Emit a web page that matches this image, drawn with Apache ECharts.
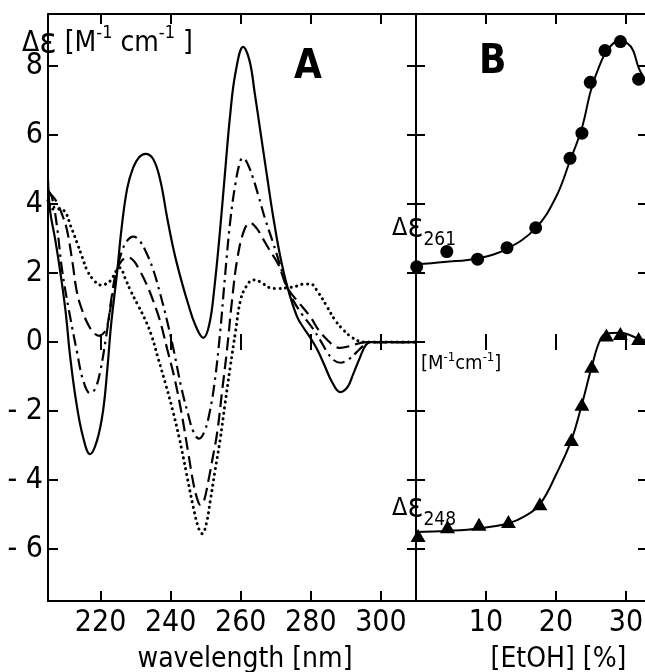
<!DOCTYPE html>
<html>
<head>
<meta charset="utf-8">
<script src="https://cdn.jsdelivr.net/npm/echarts@6/dist/echarts.min.js"></script>
<style>
  html, body { margin: 0; padding: 0; background: #fff; }
  #chart { width: 645px; height: 672px; }
</style>
</head>
<body>
<div id="chart"></div>
<script>
// tick labels
const wlTicks = [220, 240, 260, 280, 300];
const etohTicks = [10, 20, 30];
const deTicks = [-6, -4, -2, 0, 2, 4, 6, 8];

// panel A: CD spectra [wavelength nm, delta eps]
const solidCurve = [[205,4.7],[205.6,3.8],[207,3.0],[208.4,2.1],[210,0.9],[211.3,-0.4],[213,-1.7],[215,-2.75],[217,-3.25],[219,-2.85],[220.7,-2.0],[222,-0.7],[223,0.5],[224.7,2.0],[226,3.3],[227.6,4.45],[229.3,5.05],[231,5.35],[232.8,5.45],[235,5.3],[237,4.7],[239,3.6],[241,2.6],[243,1.8],[245,1.1],[247,0.5],[249.3,0.12],[251,0.5],[252.5,1.6],[254.1,3.25],[255.5,4.9],[257,6.6],[258.5,7.8],[260.7,8.55],[262.5,8.15],[264,7.2],[265.6,6.1],[267.5,4.8],[269.3,3.6],[271.3,2.46],[273.3,1.6],[276,0.75],[278,0.4],[280,0.1],[282,-0.25],[284,-0.7],[286,-1.15],[288.4,-1.45],[290.5,-1.3],[292,-0.95],[294,-0.45],[295.6,-0.1],[297,0],[310,0]];
const dashDotCurve = [[205,4.4],[206.1,4.2],[207.5,3.4],[209,2.1],[211,0.9],[213.3,-0.3],[215,-1.1],[217,-1.48],[218.5,-1.35],[220,-0.8],[221.5,0.1],[223,1.1],[224.5,2.0],[226,2.6],[227.5,2.92],[229.3,3.05],[231,2.95],[233,2.6],[235,2.1],[237,1.4],[239,0.6],[241,-0.3],[243,-1.3],[245,-2.1],[246.5,-2.6],[248.1,-2.8],[249.6,-2.6],[251,-2.1],[252.5,-1.2],[254.1,0.26],[255.5,1.9],[257,3.5],[258.5,4.6],[259.9,5.25],[260.7,5.33],[262,5.15],[263.5,4.75],[265,4.25],[267,3.55],[269.3,2.85],[271,2.3],[273.3,1.57],[275,1.2],[277.5,0.8],[280.5,0.4],[282.7,0.05],[284.7,-0.3],[286.5,-0.52],[288.4,-0.6],[290.5,-0.52],[293,-0.3],[295,-0.1],[296.5,0],[310,0]];
const dashedCurve = [[205,4.35],[206.5,4.2],[207.6,4.03],[209,3.7],[210.4,3.25],[212,2.3],[213.3,1.42],[215,0.85],[216.5,0.5],[218.1,0.26],[219.6,0.18],[220.8,0.25],[221.9,0.45],[223,1.2],[224.4,2.0],[226,2.35],[227.8,2.45],[229.5,2.35],[231,2.1],[233,1.7],[235,1.2],[237,0.6],[239,-0.2],[241,-1.0],[243,-2.0],[245,-3.2],[246.5,-4.1],[247.6,-4.55],[248.5,-4.72],[249.5,-4.6],[250.7,-4.05],[252,-3.35],[253.3,-2.6],[254.7,-1.4],[256.1,-0.2],[257.5,1.2],[259,2.4],[261,3.25],[262.7,3.45],[264.5,3.3],[266,3.05],[268,2.7],[270.7,2.25],[273.3,1.57],[276.5,1.15],[279.9,0.72],[282.2,0.35],[284.7,0.06],[286.5,-0.1],[288.4,-0.17],[291,-0.12],[294,-0.03],[296,0],[310,0]];
const dottedCurve = [[205,4.1],[206,3.85],[207.5,3.85],[209.6,3.8],[211.5,3.35],[213.3,2.87],[214.8,2.45],[216.1,2.09],[218,1.8],[220.1,1.65],[221.5,1.68],[223,1.8],[224.4,2.05],[225.5,2.15],[227,1.85],[228.5,1.5],[230.5,1.1],[232.5,0.7],[234.5,0.2],[236.5,-0.5],[238.5,-1.2],[240.5,-1.95],[242.5,-2.8],[244.5,-3.8],[246.5,-4.8],[248,-5.4],[249,-5.55],[250.2,-5.25],[251.3,-4.6],[252.7,-3.7],[254.1,-2.84],[255.5,-1.8],[257,-0.72],[258.5,0.3],[259.9,1.2],[261.5,1.6],[263.6,1.8],[265.6,1.74],[268.4,1.57],[270.5,1.55],[273.3,1.57],[276,1.62],[278,1.68],[279.9,1.68],[282,1.45],[284.7,1.01],[287,0.62],[289.3,0.35],[291.5,0.15],[294,0.02],[296,0],[310,0]];

// panel B: titration with ethanol
const etoh261 = [0.1, 4.4, 8.8, 13.0, 17.1, 22.0, 23.7, 24.9, 27.0, 29.2, 31.8];
const de261 = [2.18, 2.62, 2.40, 2.73, 3.31, 5.32, 6.05, 7.52, 8.44, 8.70, 7.61];
const etoh248 = [0.3, 4.5, 9.0, 13.2, 17.7, 22.2, 23.7, 25.1, 27.2, 29.2, 31.8];
const de248 = [-5.6, -5.35, -5.28, -5.2, -4.68, -2.82, -1.8, -0.7, 0.2, 0.25, 0.1];
const fit261 = [[0,2.25],[4,2.32],[8.8,2.42],[13,2.7],[17.1,3.3],[20,4.2],[22,5.25],[23.7,6.2],[25,7.3],[26.3,8.05],[27.5,8.5],[29,8.72],[30.2,8.65],[31,8.45],[31.8,7.95],[32.7,7.6],[33,7.5]];
const fit248 = [[0,-5.5],[4.5,-5.47],[9,-5.4],[13.2,-5.25],[15.5,-5.05],[17.7,-4.7],[20.1,-3.8],[22.2,-2.84],[23.7,-1.8],[25.1,-0.72],[26.3,0.06],[27.2,0.25],[29.2,0.27],[31.8,0.1],[33,0.05]];

const FONT = '"DejaVu Sans Condensed", "Liberation Sans Narrow", "DejaVu Sans", sans-serif';
const INK = '#000';

const chart = echarts.init(document.getElementById('chart'));

function xAx(grid, pos, min, max, ticks, opts) {
  return Object.assign({
    gridIndex: grid, type: 'value', position: pos, min: min, max: max,
    axisLine: { show: true, onZero: false, lineStyle: { color: INK, width: 2 } },
    axisTick: { inside: true, length: 10, customValues: ticks, lineStyle: { color: INK, width: 2 } },
    axisLabel: { show: false },
    splitLine: { show: false }
  }, opts || {});
}
function yAx(grid, pos, opts) {
  return Object.assign({
    gridIndex: grid, type: 'value', position: pos, min: -7.5, max: 9.5,
    axisLine: { show: true, onZero: false, lineStyle: { color: INK, width: 2 } },
    axisTick: { inside: true, length: 9, customValues: deTicks, lineStyle: { color: INK, width: 2 } },
    axisLabel: { show: false },
    splitLine: { show: false }
  }, opts || {});
}
const tickLabel = { fontSize: 30, fontFamily: FONT, color: INK };
const pairs = (xs, ys) => xs.map((x, i) => [x, ys[i]]);
const curveStyle = (type, extra) => Object.assign({ color: INK, width: 2.2, type: type }, extra || {});
const lineCurve = (data, style) => ({
  type: 'line', xAxisIndex: 0, yAxisIndex: 0, data: data,
  smooth: 0.4, symbol: 'none', lineStyle: style
});

const richDelta = (size, subSize, pad) => ({
  d: { fontSize: size, fontFamily: FONT, fill: INK },
  e: { fontSize: Math.round(size * 1.3), fontFamily: FONT, fill: INK },
  m: { fontSize: size, fontFamily: FONT, fill: INK },
  b: { fontSize: subSize, fontFamily: FONT, fill: INK, verticalAlign: 'bottom', padding: [pad, 0, 0, 0] },
  s: { fontSize: subSize, fontFamily: FONT, fill: INK, verticalAlign: 'top', padding: [0, 0, pad, 0] }
});

option = {
  backgroundColor: '#fff',
  animation: false,
  grid: [
    { left: 48, top: 14, width: 368, height: 587, outerBoundsMode: 'none' },
    { left: 416, top: 14, width: 231, height: 587, outerBoundsMode: 'none' },
    { left: 48, top: 334, width: 368, height: 16, outerBoundsMode: 'none' },
    { left: 416, top: 334, width: 231, height: 16, outerBoundsMode: 'none' }
  ],
  xAxis: [
    xAx(0, 'bottom', 205, 310, wlTicks, {
      axisLabel: Object.assign({ show: true, customValues: wlTicks, margin: 7 }, tickLabel),
      name: 'wavelength [nm]', nameLocation: 'middle', nameGap: 45, nameMoveOverlap: false,
      nameTextStyle: { fontSize: 28, fontFamily: FONT, color: INK, padding: [0, 0, 0, 26] }
    }),
    xAx(0, 'top', 205, 310, wlTicks),
    xAx(1, 'bottom', 0, 33, etohTicks, {
      axisLabel: Object.assign({ show: true, customValues: etohTicks, margin: 7 }, tickLabel),
      name: '[EtOH] [%]', nameLocation: 'middle', nameGap: 45, nameMoveOverlap: false,
      nameTextStyle: { fontSize: 28, fontFamily: FONT, color: INK, padding: [0, 0, 0, 54] }
    }),
    xAx(1, 'top', 0, 33, etohTicks),
    // short ticks crossing the zero line
    xAx(2, 'bottom', 205, 310, wlTicks, { axisLine: { show: false, onZero: false }, axisTick: { inside: true, length: 16, customValues: wlTicks, lineStyle: { color: INK, width: 2 } } }),
    xAx(3, 'bottom', 0, 33, etohTicks, { axisLine: { show: false, onZero: false }, axisTick: { inside: true, length: 16, customValues: etohTicks, lineStyle: { color: INK, width: 2 } } })
  ],
  yAxis: [
    yAx(0, 'left', {
      axisTick: { inside: true, length: 10, customValues: deTicks, lineStyle: { color: INK, width: 2 } },
      axisLabel: Object.assign({
        show: true, customValues: deTicks, margin: 5,
        formatter: v => (v < 0 ? '- ' + Math.abs(v) : String(v))
      }, tickLabel)
    }),
    yAx(0, 'right'),
    yAx(1, 'left'),
    yAx(1, 'right', { axisLine: { show: false, onZero: false } }),
    { gridIndex: 2, type: 'value', show: false, min: 0, max: 1 },
    { gridIndex: 3, type: 'value', show: false, min: 0, max: 1 }
  ],
  series: [
    Object.assign({ name: 'solid' }, lineCurve(solidCurve, curveStyle('solid'))),
    Object.assign({ name: 'dash-dot' }, lineCurve(dashDotCurve, curveStyle([12, 5, 2.5, 5]))),
    Object.assign({ name: 'dashed' }, lineCurve(dashedCurve, curveStyle([13, 6]))),
    Object.assign({ name: 'dotted' }, lineCurve(dottedCurve, curveStyle([0.1, 5.5], { width: 3, cap: 'round' }))),

    { name: 'fit261', type: 'line', xAxisIndex: 2, yAxisIndex: 2, data: fit261, smooth: 0.4, symbol: 'none', lineStyle: { color: INK, width: 2 } },
    { name: 'de261', type: 'scatter', xAxisIndex: 2, yAxisIndex: 2, data: pairs(etoh261, de261), symbol: 'circle', symbolSize: 13, itemStyle: { color: INK, opacity: 1 } },
    { name: 'fit248', type: 'line', xAxisIndex: 2, yAxisIndex: 2, data: fit248, smooth: 0.4, symbol: 'none', lineStyle: { color: INK, width: 2 } },
    { name: 'de248', type: 'scatter', xAxisIndex: 2, yAxisIndex: 2, data: pairs(etoh248, de248), symbol: 'triangle', symbolSize: [15, 13], itemStyle: { color: INK, opacity: 1 } }
  ],
  graphic: [
    {
      type: 'text', left: 22, top: 24,
      style: { text: '{d|Δ}{e|ε}{m| [M}{s|-1}{m| cm}{s|-1}{m| ]}', rich: richDelta(28, 18, 21) }
    },
    { type: 'text', left: 294, top: 48, style: { text: 'A', fontSize: 40, fontWeight: 'bold', fontFamily: FONT, fill: INK } },
    { type: 'text', left: 479, top: 43, style: { text: 'B', fontSize: 40, fontWeight: 'bold', fontFamily: FONT, fill: INK } },
    {
      type: 'text', left: 392, top: 212,
      style: { text: '{d|Δ}{e|ε}{b|261}', rich: richDelta(25, 19, 24) }
    },
    {
      type: 'text', left: 392, top: 492,
      style: { text: '{d|Δ}{e|ε}{b|248}', rich: richDelta(25, 19, 24) }
    },
    {
      type: 'text', left: 421, top: 351,
      style: { text: '{m|[M}{s|-1}{m|cm}{s|-1}{m|]}', rich: richDelta(20, 13, 13) }
    }
  ]
};

chart.setOption(option);
</script>
</body>
</html>
